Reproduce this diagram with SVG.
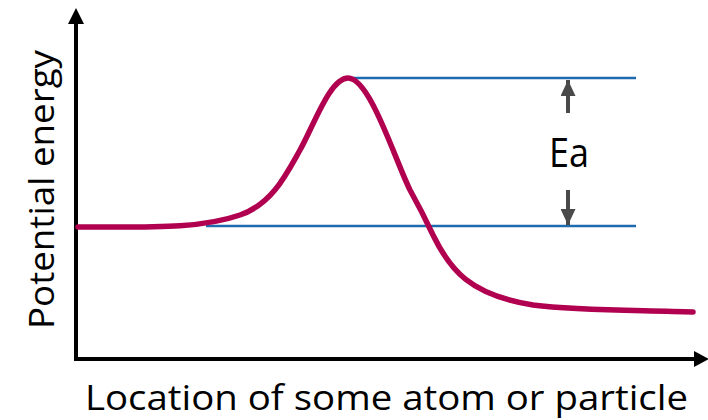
<svg xmlns="http://www.w3.org/2000/svg" width="708" height="420" viewBox="0 0 708 420">
<style>
.axis{stroke:#000;stroke-width:4;fill:none}
.lvl{stroke:#1f6bb0;stroke-width:2.5;fill:none}
.ea{stroke:#4a4a4a;stroke-width:4;fill:none}
.curve{stroke:#b0004f;stroke-width:5.5;fill:none;stroke-linecap:round;stroke-linejoin:round}
text{font-family:"Open Sans","Liberation Sans",sans-serif;fill:#000}
</style>
<defs>
<marker id="ah" viewBox="0 0 16 15" refX="16" refY="7.5" markerWidth="16" markerHeight="15" markerUnits="userSpaceOnUse" orient="auto"><path d="M0,0L16,7.5L0,15z" fill="#4a4a4a"/></marker>
</defs>
<g id="axes">
<line class="axis" x1="76" y1="361" x2="76" y2="22"/>
<polygon points="76,8 68,24 84,24" fill="#000"/>
<line class="axis" x1="74" y1="359" x2="696" y2="359"/>
<polygon points="709,359 694,351 694,367" fill="#000"/>
</g>
<g id="levels">
<line class="lvl" x1="352" y1="78" x2="636" y2="78"/>
<line class="lvl" x1="206" y1="226" x2="636" y2="226"/>
</g>
<g id="curve">
<path class="curve" d="M78,227 C150,227 200,229 240,215 C272,204 286,175 300,150 C314,125 330,78 348,78 C370,78 395,160 410,190 C420,208 425,218 433,235 C450,270 470,295 533,305 C580,311 640,310 693,312"/>
</g>
<g id="connectors">
<line class="ea" x1="568" y1="113" x2="568" y2="80" marker-end="url(#ah)"/>
<line class="ea" x1="568" y1="190" x2="568" y2="225" marker-end="url(#ah)"/>
</g>
<g id="label-ea"><text x="549" y="167" font-size="40" textLength="40" lengthAdjust="spacingAndGlyphs">Ea</text></g>
<g id="label-x"><text x="85" y="410" font-size="34" textLength="603" lengthAdjust="spacingAndGlyphs">Location of some atom or particle</text></g>
<g id="label-y"><text transform="translate(54,329) rotate(-90)" x="0" y="0" font-size="35" textLength="279" lengthAdjust="spacingAndGlyphs">Potential energy</text></g>
</svg>
